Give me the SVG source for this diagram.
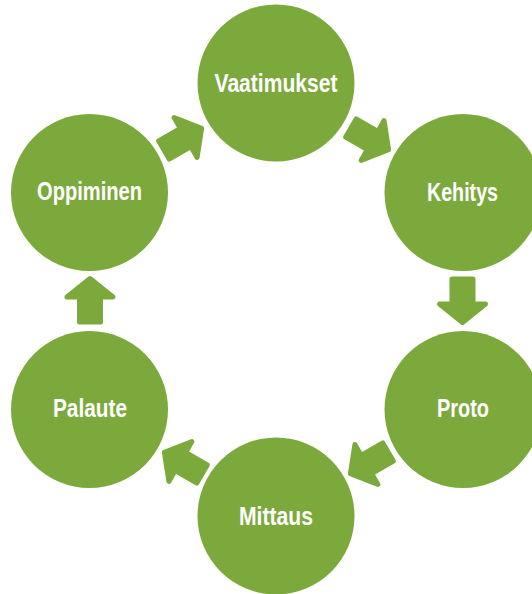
<svg xmlns="http://www.w3.org/2000/svg" width="532" height="594" viewBox="0 0 532 594">
  <style>
    .node circle { fill: #7ba93b; }
    .node text { fill: #ffffff; font-family: "Liberation Sans", Arial, sans-serif; font-weight: bold; font-size: 26px; text-anchor: middle; }
    .arrow { fill: #7ba93b; stroke: #7ba93b; stroke-width: 5; stroke-linejoin: round; }
  </style>
  <defs>
    <!-- block arrow pointing along +x, centred on the origin -->
    <polygon id="block-arrow" points="-22,-10.5 3,-10.5 3,-23 21.5,0 3,23 3,10.5 -22,10.5"/>
  </defs>
  <rect width="532" height="594" fill="#ffffff"/>

  <g id="connectors">
    <use href="#block-arrow" class="arrow" transform="translate(183,139) rotate(-30)"/>
    <use href="#block-arrow" class="arrow" transform="translate(370,139) rotate(30)"/>
    <use href="#block-arrow" class="arrow" transform="translate(462.5,301) rotate(90)"/>
    <use href="#block-arrow" class="arrow" transform="translate(369,463) rotate(150)"/>
    <use href="#block-arrow" class="arrow" transform="translate(183,463) rotate(210)"/>
    <use href="#block-arrow" class="arrow" transform="translate(90,300) rotate(-90)"/>
  </g>

  <g id="vaatimukset" class="node">
    <circle cx="276" cy="83" r="78.5"/>
    <text x="276" y="91.5" textLength="123" lengthAdjust="spacingAndGlyphs">Vaatimukset</text>
  </g>
  <g id="kehitys" class="node">
    <circle cx="463" cy="192.5" r="78.5"/>
    <text x="462.5" y="200.5" textLength="71" lengthAdjust="spacingAndGlyphs">Kehitys</text>
  </g>
  <g id="proto" class="node">
    <circle cx="463" cy="409.5" r="78.5"/>
    <text x="463" y="417" textLength="52" lengthAdjust="spacingAndGlyphs">Proto</text>
  </g>
  <g id="mittaus" class="node">
    <circle cx="276" cy="516" r="78.5"/>
    <text x="276" y="524.5" textLength="74" lengthAdjust="spacingAndGlyphs">Mittaus</text>
  </g>
  <g id="palaute" class="node">
    <circle cx="89.5" cy="409.5" r="78.5"/>
    <text x="90" y="417" textLength="74" lengthAdjust="spacingAndGlyphs">Palaute</text>
  </g>
  <g id="oppiminen" class="node">
    <circle cx="89.5" cy="192.5" r="78.5"/>
    <text x="89.5" y="200" textLength="105" lengthAdjust="spacingAndGlyphs">Oppiminen</text>
  </g>
</svg>
